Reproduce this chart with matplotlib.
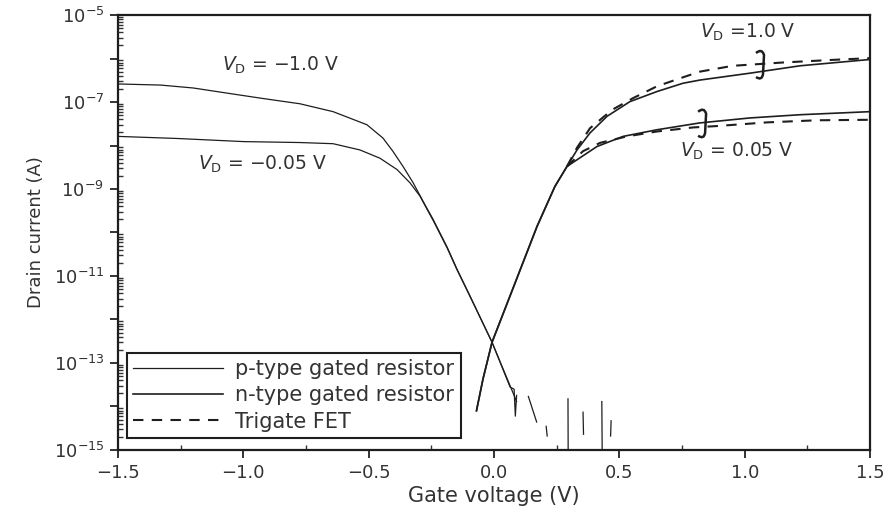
import numpy as np
import matplotlib
matplotlib.use("Agg")
import matplotlib.pyplot as plt
from matplotlib.path import Path
from matplotlib.patches import PathPatch
from matplotlib.transforms import IdentityTransform
from matplotlib.ticker import LogLocator, FuncFormatter, MultipleLocator, NullFormatter

# p-type gated resistor, VD = -1.0 V
vg_p_10 = [-1.5, -1.33, -1.2, -1.065, -0.933, -0.774, -0.642, -0.507, -0.443, -0.403, -0.363, -0.323,
           -0.283, -0.243, -0.187, -0.148, -0.096, -0.008, 0.064, 0.09]
id_p_10 = [2.6e-7, 2.45e-7, 2.1e-7, 1.6e-7, 1.23e-7, 9.1e-8, 6.0e-8, 3.0e-8, 1.48e-8, 7.3e-9, 3.3e-9, 1.4e-9,
           5.2e-10, 2.0e-10, 4.6e-11, 1.45e-11, 3.5e-12, 3.0e-13, 3.0e-14, 1.3e-14]

# p-type gated resistor, VD = -0.05 V (el ruido del piso de medida va con NaN entre tramos)
vg_p_005 = [-1.5, -1.264, -1.0, -0.774, -0.642, -0.535, -0.455, -0.387, -0.335, -0.295, -0.267, -0.243,
            -0.187, -0.148, -0.096, -0.008, 0.064,
            0.08, 0.085, 0.09, np.nan,
            0.137, 0.17, np.nan,
            0.208, 0.212, np.nan,
            0.295, 0.296, np.nan,
            0.355, 0.357, np.nan,
            0.43, 0.432, np.nan,
            0.467, 0.465]
id_p_005 = [1.62e-8, 1.45e-8, 1.23e-8, 1.17e-8, 1.1e-8, 7.9e-9, 5.1e-9, 2.8e-9, 1.38e-9, 6.8e-10, 3.4e-10, 1.9e-10,
            4.4e-11, 1.4e-11, 3.4e-12, 3.0e-13, 2.8e-14,
            2.5e-14, 6.0e-15, 1.8e-14, np.nan,
            1.7e-14, 4.4e-15, np.nan,
            3.5e-15, 2.1e-15, np.nan,
            1.5e-14, 3.0e-16, np.nan,
            7.4e-15, 2.3e-15, np.nan,
            1.3e-14, 3.0e-16, np.nan,
            4.7e-15, 2.1e-15]

# n-type gated resistor, VD = 1.0 V
vg_n_10 = [-0.07, -0.044, -0.008, 0.064, 0.172, 0.243, 0.291, 0.331, 0.383, 0.451, 0.542, 0.65, 0.754, 0.822,
           1.021, 1.221, 1.5]
id_n_10 = [8.0e-15, 4.3e-14, 3.0e-13, 3.5e-12, 1.4e-10, 1.15e-9, 3.3e-9, 7.9e-9, 1.95e-8, 4.7e-8, 1.02e-7, 1.74e-7,
           2.7e-7, 3.2e-7, 4.6e-7, 6.8e-7, 9.5e-7]

# n-type gated resistor, VD = 0.05 V
vg_n_005 = [-0.07, -0.044, -0.008, 0.064, 0.172, 0.243, 0.291, 0.331, 0.411, 0.515, 0.65, 0.82, 1.021, 1.221, 1.5]
id_n_005 = [8.0e-15, 4.3e-14, 3.0e-13, 3.5e-12, 1.4e-10, 1.15e-9, 3.3e-9, 4.7e-9, 9.5e-9, 1.62e-8, 2.3e-8, 3.3e-8,
            4.3e-8, 5.1e-8, 6.0e-8]

# Trigate FET, VD = 1.0 V y 0.05 V
vg_fet_10 = [0.291, 0.331, 0.383, 0.471, 0.555, 0.65, 0.754, 0.822, 0.953, 1.153, 1.352, 1.5]
id_fet_10 = [3.3e-9, 8.9e-9, 2.5e-8, 6.6e-8, 1.23e-7, 2.3e-7, 3.7e-7, 5.0e-7, 6.8e-7, 8.1e-7, 9.3e-7, 1.02e-6]
vg_fet_005 = [0.291, 0.355, 0.423, 0.53, 0.65, 0.794, 0.889, 1.089, 1.288, 1.5]
id_fet_005 = [3.3e-9, 7.4e-9, 1.15e-8, 1.62e-8, 2.1e-8, 2.6e-8, 2.8e-8, 3.4e-8, 3.8e-8, 3.9e-8]

etiquetas = ["p-type gated resistor", "n-type gated resistor", "Trigate FET"]

negro = "#1e1e1e"
gris = "#333333"

fig = plt.figure(figsize=(8.86, 5.12), dpi=100)
ax = fig.add_axes([0.1332, 0.1211, 0.8488, 0.8496])

ax.plot(vg_p_10, id_p_10, color=negro, lw=0.9, label=etiquetas[0])
ax.plot(vg_p_005, id_p_005, color=negro, lw=0.9)
ax.plot(vg_n_10, id_n_10, color=negro, lw=1.2, label=etiquetas[1])
ax.plot(vg_n_005, id_n_005, color=negro, lw=1.2)
ax.plot(vg_fet_10, id_fet_10, color=negro, lw=1.5, ls=(0, (5, 4)), label=etiquetas[2])
ax.plot(vg_fet_005, id_fet_005, color=negro, lw=1.5, ls=(0, (5, 4)))

ax.set_yscale("log")
ax.set_xlim(-1.5, 1.5)
ax.set_ylim(1e-15, 1e-5)

ax.xaxis.set_major_locator(MultipleLocator(0.5))
ax.xaxis.set_minor_locator(MultipleLocator(0.25))
ax.xaxis.set_major_formatter(FuncFormatter(lambda v, pos: "%.1f" % v if v >= 0 else "\u2212%.1f" % -v))

def etiqueta_log(v, pos):
    e = int(round(np.log10(v)))
    return r"$10^{%d}$" % e if e % 2 else ""

ax.yaxis.set_major_locator(LogLocator(base=10, numticks=20))
ax.yaxis.set_major_formatter(FuncFormatter(etiqueta_log))
ax.yaxis.set_minor_locator(LogLocator(base=10, subs=np.arange(2, 10), numticks=100))
ax.yaxis.set_minor_formatter(NullFormatter())

ax.tick_params(which="major", direction="out", length=6, width=1.4, labelsize=13, colors=gris, pad=4)
ax.tick_params(which="minor", direction="in", length=3.5, width=1.0, colors=gris)
for lado in ax.spines.values():
    lado.set_linewidth(1.6)
    lado.set_color(negro)

ax.set_xlabel("Gate voltage (V)", fontsize=15, color=gris, labelpad=3)
ax.set_ylabel("Drain current (A)", fontsize=13, color=gris, labelpad=6)

ax.text(-1.085, 10**-6.15, "$V_{\\mathrm{D}}$ = \u22121.0 V", fontsize=13.5, color=gris, va="center")
ax.text(-1.18, 10**-8.44, "$V_{\\mathrm{D}}$ = \u22120.05 V", fontsize=13.5, color=gris, va="center")
ax.text(0.82, 10**-5.41, "$V_{\\mathrm{D}}$ =1.0 V", fontsize=13.5, color=gris, va="center")
ax.text(0.74, 10**-8.14, "$V_{\\mathrm{D}}$ = 0.05 V", fontsize=13.5, color=gris, va="center")

leg = ax.legend(loc="lower left", bbox_to_anchor=(0.012, 0.028), borderaxespad=0, fontsize=15,
                handlelength=4.3, handletextpad=0.6, labelspacing=0.3, fancybox=False,
                framealpha=1, edgecolor=negro, borderpad=0.3)
leg.get_frame().set_linewidth(1.5)
for t in leg.get_texts():
    t.set_color(gris)


def gancho(x, y):
    # pequeña llave que une la curva continua con la discontinua
    cx, cy = ax.transData.transform((x, y))
    puntos = [(-4, 12), (2, 17), (4, 10), (3, -9), (2, -16), (-4, -12)]
    codigos = [Path.MOVETO, Path.CURVE3, Path.CURVE3, Path.LINETO, Path.CURVE3, Path.CURVE3]
    camino = Path([(cx + px, cy + py) for px, py in puntos], codigos)
    ax.add_patch(PathPatch(camino, facecolor="none", edgecolor=negro, lw=1.8,
                           transform=IdentityTransform()))


gancho(1.061, 10**-6.15)
gancho(0.83, 10**-7.5)

fig.savefig("out.png", dpi=100)
